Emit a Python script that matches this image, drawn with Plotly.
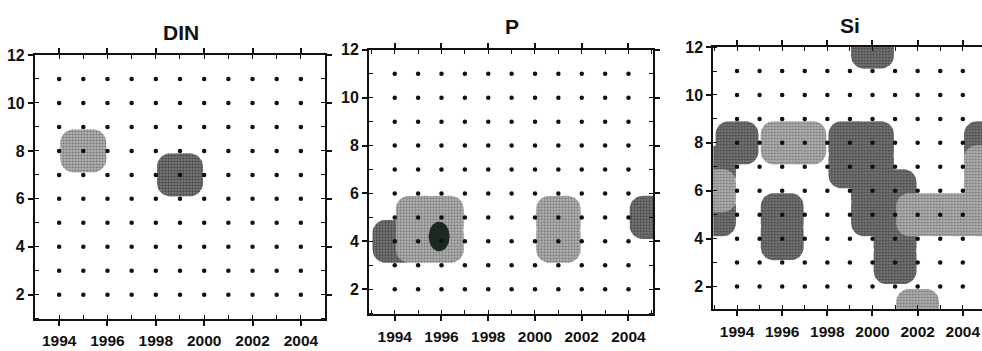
import numpy as np
import plotly.graph_objects as go

# Sampling grid (one dot per year and month)
grid_years = list(range(1994, 2005))
grid_months = list(range(2, 12))

# Axis ticks and labels
x_tick_vals = [1994, 1996, 1998, 2000, 2002, 2004]
x_tick_text = ["1994", "1996", "1998", "2000", "2002", "2004"]
y_tick_vals = [2, 4, 6, 8, 10, 12]
y_tick_text = ["2", "4", "6", "8", "10", "12"]

panel_titles = ["DIN", "P", "Si"]

# Significant cells per panel: year, month, shade level (1 = light, 2 = dark)
din_year = [1995, 1999]
din_month = [8, 7]
din_level = [1, 2]

p_year = [1994, 1995, 1995, 1996, 1996, 2001, 2001, 2005]
p_month = [4, 4, 5, 4, 5, 4, 5, 5]
p_level = [2, 1, 1, 1, 1, 1, 1, 2]

# Strongest P signal (solid core)
p_peak_year = [1995.9]
p_peak_month = [4.2]

si_year = [2000, 1994, 1993, 1993, 1993, 1996, 1997,
           1999, 2000, 1999, 2000, 2000, 2000, 2001, 2001, 2001, 2001,
           2002, 2002, 2003, 2004, 2005, 2005, 2005, 2005, 1996, 1996]
si_month = [12, 8, 7, 6, 5, 8, 8,
            8, 8, 7, 7, 6, 5, 6, 5, 4, 3,
            1, 5, 5, 5, 5, 6, 7, 8, 4, 5]
si_level = [2, 2, 2, 1, 2, 1, 1,
            2, 2, 2, 2, 2, 2, 2, 2, 2, 2,
            1, 1, 1, 1, 1, 1, 1, 2, 2, 2]

panels = [
    (din_year, din_month, din_level),
    (p_year, p_month, p_level),
    (si_year, si_month, si_level),
]

# Plot-area placement of the three panels (paper fractions)
x_domains = [[0.0356, 0.331], [0.3758, 0.665], [0.7264, 1.0]]
y_domains = [[0.094, 0.863], [0.107, 0.878], [0.1217, 0.886]]
x_ranges = [[1993, 2005], [1992.9, 2005.05], [1992.95, 2004.85]]
y_ranges = [[1, 12], [0.95, 12], [1.05, 12]]

HX, HY = 0.95, 0.9  # half-size of a shaded cell in data units
shade_style = {
    1: dict(bg="#b2b2b2", fg="#333333", solidity=0.4),
    2: dict(bg="#808080", fg="#161616", solidity=0.5),
}


def rounded_cell(cx, cy, hx=HX, hy=HY, frac=0.6, n=10):
    rx, ry = hx * frac, hy * frac
    corners = [
        (cx + hx - rx, cy + hy - ry, 0.0),
        (cx - hx + rx, cy + hy - ry, 0.5 * np.pi),
        (cx - hx + rx, cy - hy + ry, np.pi),
        (cx + hx - rx, cy - hy + ry, 1.5 * np.pi),
    ]
    xs, ys = [], []
    for ox, oy, a0 in corners:
        t = np.linspace(a0, a0 + 0.5 * np.pi, n)
        xs.extend(ox + rx * np.cos(t))
        ys.extend(oy + ry * np.sin(t))
    xs.append(xs[0])
    ys.append(ys[0])
    return xs, ys


fig = go.Figure()

for i, (yrs, mons, lvls) in enumerate(panels):
    xa = "x" if i == 0 else f"x{i + 1}"
    ya = "y" if i == 0 else f"y{i + 1}"
    # dark cells first, light cells over them
    for lvl in (2, 1):
        for yr, mo, lv in zip(yrs, mons, lvls):
            if lv != lvl:
                continue
            xs, ys = rounded_cell(yr, mo)
            st = shade_style[lv]
            fig.add_trace(go.Scatter(
                x=xs, y=ys, xaxis=xa, yaxis=ya, mode="lines",
                fill="toself", line=dict(width=0, color=st["bg"]),
                fillcolor=st["bg"],
                fillpattern=dict(shape=".", fgcolor=st["fg"], bgcolor=st["bg"],
                                 size=3, solidity=st["solidity"]),
                showlegend=False,
            ))
    if i == 1:
        for px, py in zip(p_peak_year, p_peak_month):
            t = np.linspace(0, 2 * np.pi, 60)
            fig.add_trace(go.Scatter(
                x=px + 0.45 * np.cos(t), y=py + 0.62 * np.sin(t),
                xaxis=xa, yaxis=ya, mode="lines", fill="toself",
                line=dict(width=0, color="#1b2a21"), fillcolor="#1b2a21",
                showlegend=False,
            ))
    gx = [yr for mo in grid_months for yr in grid_years]
    gy = [mo for mo in grid_months for yr in grid_years]
    fig.add_trace(go.Scatter(
        x=gx, y=gy, xaxis=xa, yaxis=ya, mode="markers",
        marker=dict(symbol="circle", size=4.5, color="#111111"),
        showlegend=False,
    ))

font_family = "Liberation Sans, Arial, sans-serif"
layout = dict(
    width=982, height=351,
    margin=dict(l=0, r=0, t=0, b=0),
    paper_bgcolor="white", plot_bgcolor="white",
    font=dict(family=font_family, color="#111111"),
)

for i in range(3):
    sx = "xaxis" if i == 0 else f"xaxis{i + 1}"
    sy = "yaxis" if i == 0 else f"yaxis{i + 1}"
    ya_name = "y" if i == 0 else f"y{i + 1}"
    xa_name = "x" if i == 0 else f"x{i + 1}"
    layout[sx] = dict(
        domain=x_domains[i], range=x_ranges[i], anchor=ya_name,
        tickvals=x_tick_vals, ticktext=x_tick_text,
        ticks="outside", ticklen=5, tickwidth=1.5, tickcolor="#111111",
        minor=dict(dtick=1, tick0=1993, ticks="inside", ticklen=4,
                   tickwidth=1.2, tickcolor="#111111", showgrid=False),
        showline=True, linewidth=2, linecolor="#111111",
        mirror="allticks", showgrid=False, zeroline=False,
        tickfont=dict(size=15.5, weight=700, family=font_family, color="#111111"),
        ticklabelstandoff=2, fixedrange=True,
    )
    layout[sy] = dict(
        domain=y_domains[i], range=y_ranges[i], anchor=xa_name,
        tickvals=y_tick_vals, ticktext=y_tick_text,
        ticks="outside", ticklen=5, tickwidth=1.5, tickcolor="#111111",
        minor=dict(dtick=1, tick0=1, ticks="inside", ticklen=4,
                   tickwidth=1.2, tickcolor="#111111", showgrid=False),
        showline=True, linewidth=2, linecolor="#111111",
        mirror="allticks" if i < 2 else False,
        showgrid=False, zeroline=False,
        tickfont=dict(size=16, weight=700, family=font_family, color="#111111"),
        fixedrange=True,
    )

fig.update_layout(**layout)

title_x = [0.184, 0.521, 0.866]
title_y = [0.93, 0.945, 0.95]
for t, tx, ty in zip(panel_titles, title_x, title_y):
    fig.add_annotation(
        text=t, xref="paper", yref="paper", x=tx, y=ty,
        showarrow=False, xanchor="center", yanchor="middle",
        font=dict(size=21, weight=700, family=font_family, color="#111111"),
    )

fig.write_html("out.html")
